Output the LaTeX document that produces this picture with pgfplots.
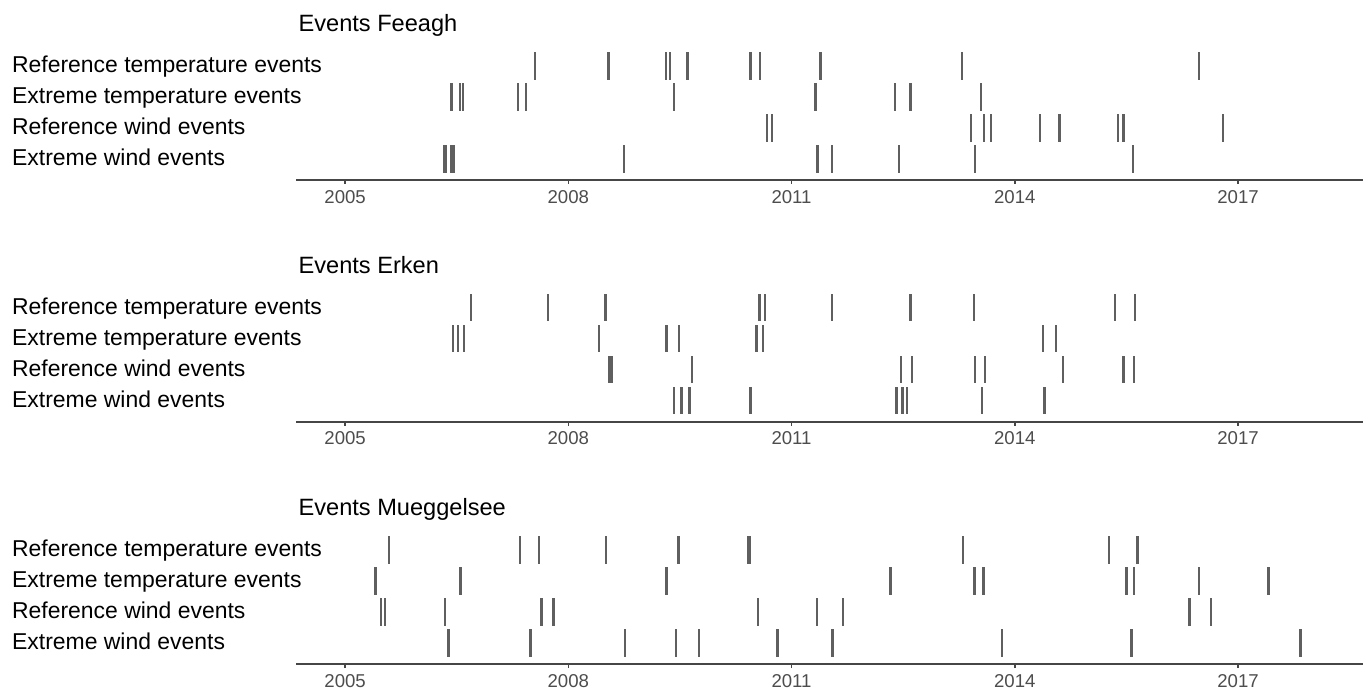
\documentclass[border=0pt]{standalone}
\usepackage{pgfplots}
\pgfplotsset{compat=1.18}
\usepackage{pgfplotstable}
\usepackage{fontspec}
\setmainfont{Liberation Sans}
\definecolor{evgray}{RGB}{95,95,95}
\definecolor{axgray}{RGB}{70,70,70}
\definecolor{tkgray}{RGB}{77,77,77}

\pgfplotstableread{
x r
2007.55 4
2008.54 4
2009.31 4
2009.37 4
2009.60 4
2010.45 4
2010.58 4
2011.39 4
2013.29 4
2016.48 4
2006.43 3
2006.54 3
2006.58 3
2007.32 3
2007.43 3
2009.42 3
2011.32 3
2012.39 3
2012.60 3
2013.55 3
2010.67 2
2010.74 2
2013.41 2
2013.59 2
2013.68 2
2014.34 2
2014.60 2
2015.39 2
2015.46 2
2016.80 2
2006.33 1
2006.36 1
2006.43 1
2006.46 1
2008.75 1
2011.35 1
2011.54 1
2012.44 1
2013.47 1
2015.59 1
}\feeagh

\pgfplotstableread{
x r
2006.69 4
2007.73 4
2008.50 4
2010.57 4
2010.64 4
2011.54 4
2012.60 4
2013.45 4
2015.35 4
2015.62 4
2006.45 3
2006.52 3
2006.60 3
2008.41 3
2009.32 3
2009.49 3
2010.53 3
2010.62 3
2014.38 3
2014.55 3
2008.55 2
2008.58 2
2009.66 2
2012.47 2
2012.62 2
2013.47 2
2013.60 2
2014.65 2
2015.46 2
2015.60 2
2009.42 1
2009.52 1
2009.63 1
2010.45 1
2012.41 1
2012.49 1
2012.55 1
2013.56 1
2014.40 1
}\erken

\pgfplotstableread{
x r
2005.59 4
2007.35 4
2007.61 4
2008.51 4
2009.48 4
2010.41 4
2010.44 4
2013.30 4
2015.27 4
2015.65 4
2005.41 3
2006.55 3
2009.32 3
2012.33 3
2013.46 3
2013.58 3
2015.50 3
2015.60 3
2016.48 3
2017.41 3
2005.48 2
2005.54 2
2006.34 2
2007.64 2
2007.80 2
2010.55 2
2011.34 2
2011.69 2
2016.35 2
2016.64 2
2006.39 1
2007.49 1
2008.76 1
2009.45 1
2009.76 1
2010.81 1
2011.55 1
2013.83 1
2015.57 1
2017.84 1
}\mueggel

\pgfplotsset{
  evaxis/.style={
    scale only axis, width=533.5pt, height=67.5pt,
    anchor=south west,
    xmin=2004.34, xmax=2018.68, ymin=0.323, ymax=4.677,
    axis lines*=left,
    y axis line style={draw=none},
    x axis line style={draw=axgray, line width=0.9pt},
    tick align=outside, major tick length=2pt,
    xtick={2005,2008,2011,2014,2017},
    xticklabels={2005,2008,2011,2014,2017},
    x tick style={draw=axgray, line width=0.8pt},
    xticklabel style={font=\fontsize{9.3}{11}\selectfont, text=tkgray, anchor=base, inner sep=0pt, yshift=-9.65pt},
    ytick={1,2,3,4},
    yticklabels={Extreme wind events, Reference wind events, Extreme temperature events, Reference temperature events},
    y tick style={draw=none},
    yticklabel style={font=\fontsize{11.47}{13}\selectfont, text=black, anchor=base west, inner sep=0pt, xshift=-140.15pt, yshift=-3.25pt},
    every axis title/.style={at={(0,1)}, anchor=base west, inner sep=0pt, yshift=6.55pt, xshift=1.1pt, font=\fontsize{11.8}{14}\selectfont},
  },
  evplot/.style={draw=none, mark=none,
    error bars/.cd, y dir=both, y fixed=0.444, error mark=none,
    error bar style={draw=evgray, line width=1.15pt}},
}

\begin{document}
\begin{tikzpicture}
\useasboundingbox (0,0) rectangle (685pt,345.5pt);
\begin{axis}[evaxis, at={(148pt,255.5pt)}, title={Events Feeagh}]
\addplot[evplot] table[x=x,y=r] {\feeagh};
\end{axis}
\begin{axis}[evaxis, at={(148pt,134.65pt)}, title={Events Erken}]
\addplot[evplot] table[x=x,y=r] {\erken};
\end{axis}
\begin{axis}[evaxis, at={(148pt,13.5pt)}, title={Events Mueggelsee}]
\addplot[evplot] table[x=x,y=r] {\mueggel};
\end{axis}
\end{tikzpicture}
\end{document}
